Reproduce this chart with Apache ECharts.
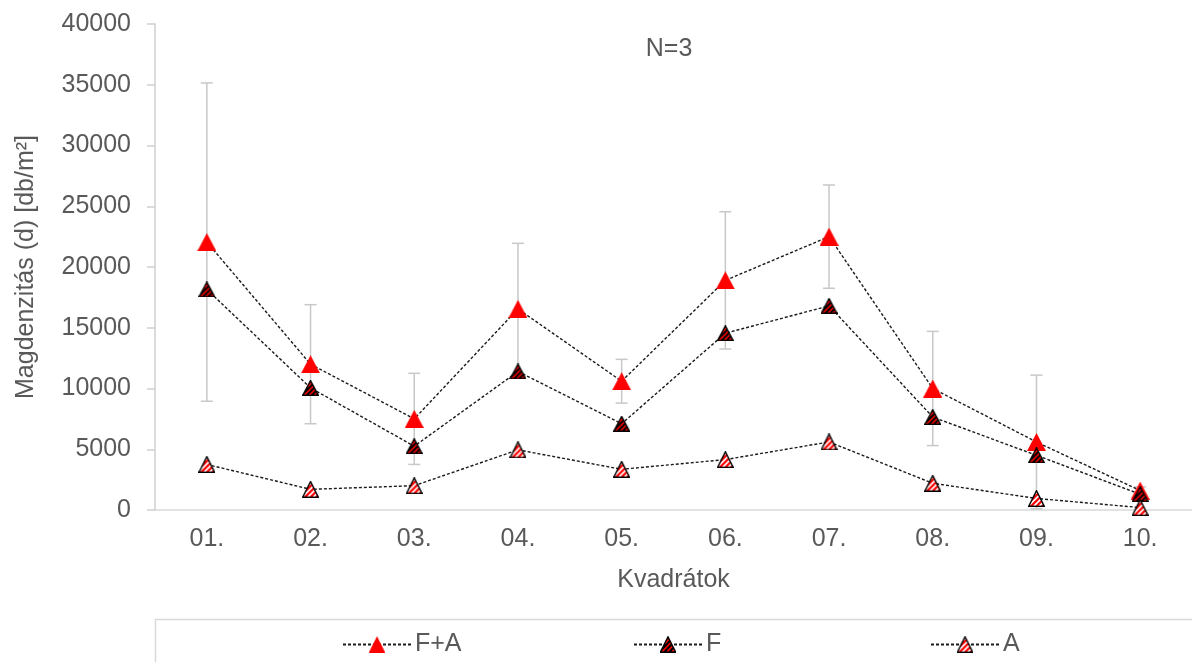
<!DOCTYPE html>
<html>
<head>
<meta charset="utf-8">
<script src="https://cdn.jsdelivr.net/npm/echarts@6/dist/echarts.min.js"></script>
<style>
  html, body { margin: 0; padding: 0; background: #ffffff; }
  #chart { width: 1192px; height: 662px; }
</style>
</head>
<body>
<div id="chart"></div>
<script>
// Quadrats along the transect
const categories = ['01.', '02.', '03.', '04.', '05.', '06.', '07.', '08.', '09.', '10.'];

// Seed density (db/m²), mean of N=3
const seriesFA = [22050, 12000, 7500, 16550, 10600, 18900, 22500, 10000, 5600, 1600];
const seriesF  = [18150, 10050, 5250, 11400, 7100, 14550, 16800, 7650, 4500, 1300];
const seriesA  = [3750, 1700, 2000, 4950, 3350, 4150, 5600, 2200, 950, 200];

// Standard deviation of F+A
const errorFA = [13100, 4900, 3750, 5400, 1800, 5650, 4250, 4700, 5500, 300];

// Y axis ticks
const yMin = 0, yMax = 40000, yStep = 5000;

const TXT = '#595959';
const FONT = 'Liberation Sans, Arial, sans-serif';
const FS = 25;

// Triangle marker pictures: solid, dark stripes, light stripes
function triangleImage(w, h, opts) {
  const s = 4;
  const c = document.createElement('canvas');
  c.width = w * s; c.height = h * s;
  const g = c.getContext('2d');
  g.scale(s, s);
  const inset = opts.stroke ? 0.7 : 0;
  const outline = () => {
    g.beginPath();
    g.moveTo(w / 2, inset);
    g.lineTo(w - inset, h - inset);
    g.lineTo(inset, h - inset);
    g.closePath();
  };
  outline();
  g.save();
  g.clip();
  g.fillStyle = opts.fill;
  g.fillRect(0, 0, w, h);
  if (opts.stripe) {
    g.strokeStyle = opts.stripe;
    g.lineWidth = opts.stripeWidth;
    for (let k = -h; k < w + h; k += opts.stripeGap) {
      g.beginPath();
      g.moveTo(k, h);
      g.lineTo(k + h, 0);
      g.stroke();
    }
  }
  g.restore();
  if (opts.stroke) {
    g.strokeStyle = opts.stroke;
    g.lineWidth = 1.4;
    outline();
    g.stroke();
  }
  return 'image://' + c.toDataURL('image/png');
}

const symFA = triangleImage(19, 18, { fill: '#ff0000' });
const symF  = triangleImage(17, 16, { fill: '#ff0000', stroke: '#000000', stripe: '#000000', stripeWidth: 2, stripeGap: 5 });
const symA  = triangleImage(17, 17, { fill: '#ff0000', stroke: '#000000', stripe: '#ffffff', stripeWidth: 1.7, stripeGap: 5.5 });

const dashed = { color: '#1a1a1a', width: 1.4, type: [3, 2] };

const errorData = seriesFA.map((v, i) => [i, v - errorFA[i], v + errorFA[i]]);

const chart = echarts.init(document.getElementById('chart'), null, { renderer: 'canvas' });

function legendFor(name, left) {
  return {
    data: [name],
    left: left,
    top: 627,
    itemWidth: 68,
    itemHeight: 21,
    itemGap: 0,
    textStyle: { color: TXT, fontSize: FS, fontFamily: FONT, padding: [0, 0, 0, -1] },
    selectedMode: false
  };
}

chart.setOption({
  animation: false,
  backgroundColor: '#ffffff',
  title: {
    text: 'N=3',
    left: 664,
    top: 32,
    textAlign: 'center',
    textStyle: { color: TXT, fontSize: FS, fontWeight: 'normal', fontFamily: FONT }
  },
  grid: { left: 155, right: 0, top: 24, bottom: 152, containLabel: false },
  xAxis: {
    type: 'category',
    data: categories,
    boundaryGap: true,
    name: 'Kvadrátok',
    nameLocation: 'middle',
    nameGap: 58,
    nameTextStyle: { color: TXT, fontSize: FS, fontFamily: FONT },
    axisLine: { lineStyle: { color: '#d9d9d9', width: 1.5 } },
    axisTick: { alignWithLabel: true, length: 6, lineStyle: { color: '#d9d9d9', width: 1.5 } },
    axisLabel: { color: TXT, fontSize: FS, fontFamily: FONT, margin: 17 },
    splitLine: { show: false }
  },
  yAxis: {
    type: 'value',
    min: yMin,
    max: yMax,
    interval: yStep,
    name: 'Magdenzitás (d) [db/m²]',
    nameLocation: 'middle',
    nameGap: 116,
    nameTextStyle: { color: TXT, fontSize: FS, fontFamily: FONT },
    axisLine: { show: true, lineStyle: { color: '#cfcfcf', width: 1.5 } },
    axisTick: { show: true, length: 8, lineStyle: { color: '#cfcfcf', width: 1.5 } },
    axisLabel: { color: TXT, fontSize: FS, fontFamily: FONT, margin: 24, formatter: v => String(v) },
    splitLine: { show: false }
  },
  legend: [legendFor('F+A', 337), legendFor('F', 628), legendFor('A', 925)],
  graphic: [{
    type: 'rect',
    shape: { x: 155.5, y: 619.5, width: 1100, height: 100 },
    style: { fill: 'none', stroke: '#d9d9d9', lineWidth: 1.5 },
    silent: true,
    z: -1
  }],
  series: [
    {
      type: 'custom',
      name: 'errFA',
      data: errorData,
      z: 1,
      silent: true,
      renderItem: function (params, api) {
        const x = api.coord([api.value(0), 0])[0];
        const lo = api.coord([api.value(0), api.value(1)])[1];
        const hi = api.coord([api.value(0), api.value(2)])[1];
        const cap = 6;
        const st = { stroke: '#c8c8c8', lineWidth: 1.5 };
        return {
          type: 'group',
          children: [
            { type: 'line', shape: { x1: x, y1: hi, x2: x, y2: lo }, style: st },
            { type: 'line', shape: { x1: x - cap, y1: hi, x2: x + cap, y2: hi }, style: st },
            { type: 'line', shape: { x1: x - cap, y1: lo, x2: x + cap, y2: lo }, style: st }
          ]
        };
      }
    },
    {
      name: 'F+A', type: 'line', data: seriesFA, z: 3,
      symbol: symFA, symbolSize: [19, 18],
      lineStyle: dashed, itemStyle: { color: '#ff0000' }
    },
    {
      name: 'F', type: 'line', data: seriesF, z: 3,
      symbol: symF, symbolSize: [17, 16],
      lineStyle: dashed, itemStyle: { color: '#ff0000' }
    },
    {
      name: 'A', type: 'line', data: seriesA, z: 3,
      symbol: symA, symbolSize: [17, 17],
      lineStyle: dashed, itemStyle: { color: '#ff0000' }
    }
  ]
});
</script>
</body>
</html>
